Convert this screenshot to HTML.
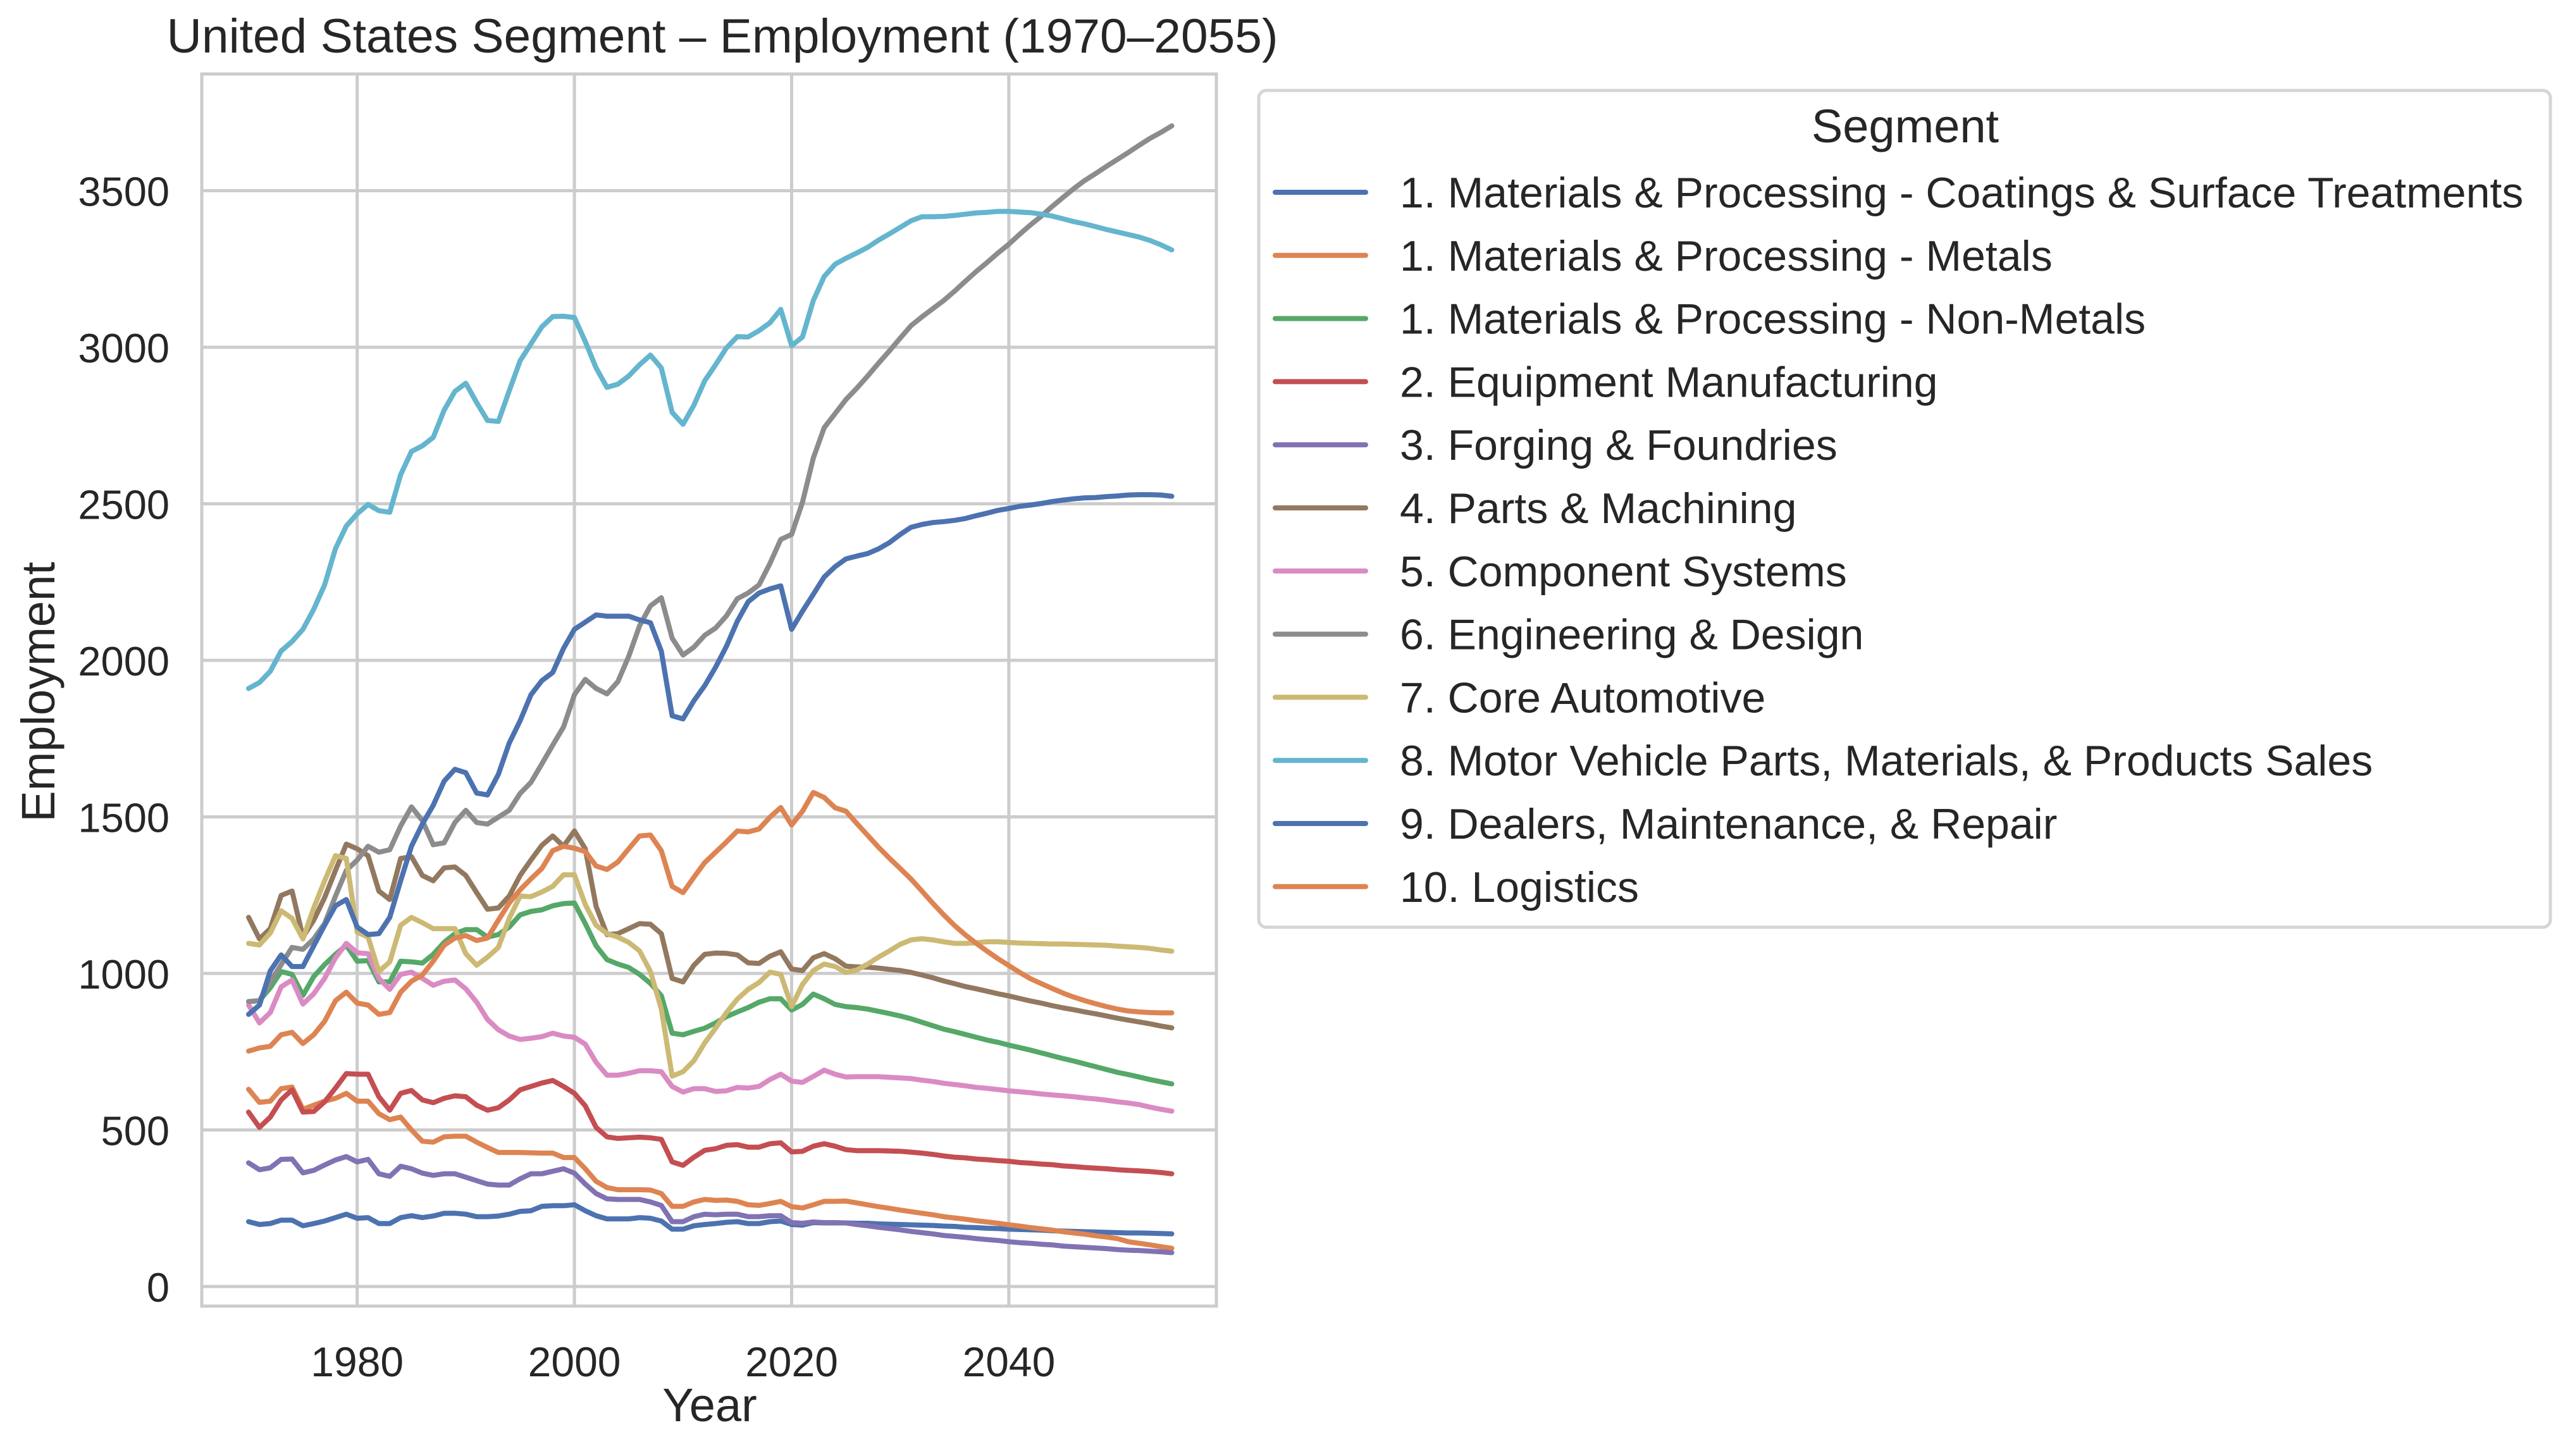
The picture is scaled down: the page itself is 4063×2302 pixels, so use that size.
<!DOCTYPE html>
<html><head><meta charset="utf-8"><style>
html,body{margin:0;padding:0;background:#fff;}
svg{display:block;font-family:"Liberation Sans",Arial,sans-serif;}
</style></head><body>
<svg id="chart" xmlns="http://www.w3.org/2000/svg" width="4063" height="2302" viewBox="0 0 4063 2302">
<rect x="0" y="0" width="4063" height="2302" fill="#ffffff"/>
<g id="grid"></g>
<g id="series"></g>
<rect x="319" y="117" width="1604" height="1948" fill="none" stroke="#cccccc" stroke-width="5"/>
<g id="ticks"></g>
<text x="1142" y="83" text-anchor="middle" font-size="76" fill="#262626" textLength="1757" lengthAdjust="spacingAndGlyphs">United States Segment – Employment (1970–2055)</text>
<text x="1122" y="2247" text-anchor="middle" font-size="74" fill="#262626">Year</text>
<text transform="translate(86,1094) rotate(-90)" text-anchor="middle" font-size="74" fill="#262626">Employment</text>
<g id="legend">
<rect x="1990" y="143" width="2042" height="1323" rx="12" fill="#ffffff" stroke="#d5d5d5" stroke-width="5"/>
<text x="3012" y="225" text-anchor="middle" font-size="74" fill="#262626">Segment</text>
</g>
</svg>
<script>
const years = [];
for (let y = 1970; y <= 2055; y++) years.push(y);
const seriesNames = ["1. Materials & Processing - Coatings & Surface Treatments","1. Materials & Processing - Metals","1. Materials & Processing - Non-Metals","2. Equipment Manufacturing","3. Forging & Foundries","4. Parts & Machining","5. Component Systems","6. Engineering & Design","7. Core Automotive","8. Motor Vehicle Parts, Materials, & Products Sales","9. Dealers, Maintenance, & Repair","10. Logistics"];
const coatings = [207,198,201,212,212,194,201,209,220,231,218,220,201,201,220,226,220,225,234,234,231,223,223,225,231,240,242,256,258,258,261,242,226,216,216,216,220,218,209,183,183,194,198,201,205,207,201,201,207,209,198,196,204,203,203,203,202,202,200,199,198,197,196,195,193,192,189,188,186,185,183,182,181,180,178,177,176,175,174,173,172,171,171,170,169,168];
const metals = [630,588,592,632,637,566,579,592,601,617,592,592,552,533,541,500,464,461,478,480,480,461,444,428,428,428,427,426,426,412,412,376,336,316,309,309,309,308,297,256,256,270,278,275,276,272,261,259,265,272,255,251,261,272,272,273,267,261,255,250,244,239,234,229,223,219,215,210,206,202,197,193,188,184,180,175,171,167,162,158,153,143,138,133,127,122];
const nonMetals = [910,913,954,1006,997,930,990,1028,1061,1090,1039,1041,973,973,1039,1037,1033,1061,1099,1127,1140,1140,1116,1124,1148,1187,1198,1203,1216,1223,1225,1159,1088,1044,1030,1019,997,968,929,809,804,815,825,842,862,877,891,908,919,919,883,901,934,919,901,894,891,886,879,872,864,855,844,833,822,814,805,796,787,780,771,763,755,746,737,728,720,711,702,693,684,677,669,661,654,647];
const equipment = [557,508,541,596,628,557,559,590,634,680,678,678,606,563,617,626,596,587,601,609,606,579,563,571,596,628,639,650,658,639,617,577,508,478,473,475,477,475,470,398,387,413,435,440,451,453,445,445,456,459,430,432,448,456,448,437,434,434,434,433,432,429,426,422,417,413,411,407,405,402,400,396,394,391,389,385,383,380,378,376,373,371,369,367,364,360];
const forging = [395,373,379,406,407,363,371,388,404,415,398,406,360,352,384,376,362,355,360,360,349,338,327,324,324,344,360,360,368,376,362,327,297,280,278,278,278,270,259,207,207,223,231,229,231,231,223,223,226,226,204,202,206,204,204,203,198,194,189,185,181,176,172,168,163,160,157,153,150,147,143,140,138,135,133,129,127,125,123,121,118,116,115,113,111,108];
const parts = [1179,1110,1143,1249,1263,1116,1170,1242,1329,1413,1398,1376,1263,1236,1367,1373,1313,1296,1337,1340,1313,1258,1205,1209,1247,1313,1362,1409,1439,1406,1455,1398,1214,1124,1127,1143,1159,1157,1127,984,973,1026,1061,1065,1064,1059,1034,1032,1055,1069,1014,1009,1050,1063,1047,1023,1021,1020,1017,1013,1009,1003,995,986,976,967,958,951,943,935,928,920,912,905,897,890,884,877,871,864,857,851,845,839,832,826];
const component = [899,842,875,957,979,902,935,984,1050,1096,1066,1063,984,949,997,1004,984,962,975,979,951,908,853,820,800,789,793,798,809,800,796,774,716,675,675,681,689,689,686,639,621,632,632,623,625,636,634,639,661,678,656,652,671,691,678,669,670,670,670,668,666,664,659,655,649,645,641,636,633,629,625,622,619,615,612,609,606,602,599,595,590,586,581,573,566,560];
const engineering = [910,913,973,1028,1083,1077,1110,1159,1247,1329,1362,1406,1387,1395,1471,1532,1488,1411,1417,1482,1521,1482,1477,1499,1521,1575,1610,1669,1729,1787,1890,1939,1910,1893,1932,2013,2110,2174,2200,2071,2017,2042,2080,2103,2142,2197,2215,2241,2309,2386,2402,2505,2646,2743,2788,2833,2869,2908,2949,2988,3029,3069,3097,3123,3149,3179,3211,3242,3271,3301,3329,3361,3391,3419,3450,3479,3507,3533,3555,3578,3600,3622,3645,3667,3686,3707];
const coreAuto = [1096,1091,1129,1200,1176,1110,1209,1296,1376,1367,1132,1116,1006,1037,1154,1179,1162,1143,1143,1143,1063,1026,1052,1083,1176,1247,1245,1260,1278,1315,1315,1220,1154,1127,1116,1099,1072,1006,886,672,686,721,778,825,875,918,949,971,1004,997,894,965,1009,1030,1022,1003,1011,1030,1052,1072,1093,1107,1111,1107,1101,1096,1096,1098,1101,1101,1099,1097,1096,1095,1094,1094,1093,1092,1091,1090,1087,1085,1083,1080,1075,1071];
const sales = [1910,1929,1965,2030,2060,2099,2163,2241,2357,2429,2468,2498,2478,2473,2593,2667,2685,2712,2799,2859,2885,2823,2766,2763,2861,2957,3011,3065,3098,3099,3095,3018,2934,2872,2882,2908,2944,2975,2934,2792,2754,2815,2893,2944,2998,3034,3033,3053,3078,3121,3005,3033,3149,3226,3265,3284,3301,3319,3342,3362,3383,3404,3417,3417,3418,3421,3425,3429,3431,3434,3434,3432,3430,3425,3419,3410,3401,3394,3385,3376,3368,3360,3352,3341,3327,3311];
const dealers = [869,899,1008,1059,1022,1022,1088,1154,1216,1236,1148,1124,1127,1179,1296,1406,1477,1537,1614,1652,1641,1576,1570,1636,1736,1807,1890,1935,1961,2038,2099,2122,2145,2141,2141,2141,2129,2120,2029,1823,1813,1871,1919,1978,2045,2125,2187,2215,2228,2238,2099,2157,2211,2266,2299,2324,2333,2341,2356,2376,2402,2425,2434,2440,2443,2447,2453,2462,2470,2479,2485,2492,2496,2501,2507,2512,2516,2519,2520,2523,2525,2528,2529,2529,2528,2524];
const logistics = [752,762,767,804,812,776,804,847,913,940,905,899,869,875,940,975,995,1039,1090,1113,1121,1105,1113,1170,1225,1267,1302,1335,1392,1406,1400,1389,1343,1332,1356,1398,1439,1442,1392,1278,1258,1307,1354,1387,1420,1455,1452,1461,1499,1530,1474,1518,1578,1562,1529,1518,1479,1441,1403,1368,1335,1301,1263,1224,1187,1153,1123,1096,1071,1047,1025,1003,983,967,952,937,924,913,903,894,886,880,877,875,874,874];
const xTicks = [1980,2000,2020,2040];
const yTicks = [0,500,1000,1500,2000,2500,3000,3500];

const allSeries = [coatings,metals,nonMetals,equipment,forging,parts,component,engineering,coreAuto,sales,dealers,logistics];
const colors = ["#4C72B0","#DD8452","#55A868","#C44E52","#8172B3","#937860","#DA8BC3","#8C8C8C","#CCB974","#64B5CD","#4C72B0","#DD8452"];
const slugs = ["coatings","metals","non-metals","equipment","forging","parts","component","engineering","core-automotive","sales","dealers","logistics"];

const L=319,R=1923,T=117,B=2065;
function xs(y){return 393+(y-1970)*17.17;}
function ys(v){return 2034-v*0.495;}
const NS="http://www.w3.org/2000/svg";
function mk(tag,attrs){const e=document.createElementNS(NS,tag);for(const k in attrs)e.setAttribute(k,attrs[k]);return e;}

const grid=document.getElementById('grid');
const ticks=document.getElementById('ticks');
xTicks.forEach(t=>{
  const l=mk('line',{x1:xs(t),x2:xs(t),y1:T,y2:B,stroke:'#cccccc','stroke-width':5});
  
  
  grid.appendChild(l);
  const tx=mk('text',{x:xs(t),y:2176,'text-anchor':'middle','font-size':66,fill:'#262626'});
  tx.textContent=t;
  
  
  ticks.appendChild(tx);
});
yTicks.forEach(t=>{
  const l=mk('line',{x1:L,x2:R,y1:ys(t),y2:ys(t),stroke:'#cccccc','stroke-width':5});
  
  
  grid.appendChild(l);
  const tx=mk('text',{x:268,y:ys(t)+24,'text-anchor':'end','font-size':65,fill:'#262626'});
  tx.textContent=t;
  
  
  ticks.appendChild(tx);
});

const sg=document.getElementById('series');
allSeries.forEach((vals,i)=>{
  const d=vals.map((v,j)=>(j?'L':'M')+xs(years[j]).toFixed(1)+','+ys(v).toFixed(1)).join(' ');
  const p=mk('path',{d:d,fill:'none',stroke:colors[i],'stroke-width':8,'stroke-linejoin':'round','stroke-linecap':'round'});
  
  
  sg.appendChild(p);
});

const lg=document.getElementById('legend');
seriesNames.forEach((n,i)=>{
  const y=304+i*99.8;
  const g=mk('g',{});
  
  
  const l=mk('line',{x1:2016,x2:2159,y1:y,y2:y,stroke:colors[i],'stroke-width':8,'stroke-linecap':'round'});
  
  
  const t=mk('text',{x:2213,y:y+24,'font-size':68,fill:'#262626'});
  t.textContent=n;
  
  
  g.appendChild(l);g.appendChild(t);lg.appendChild(g);
});
</script>
</body></html>
